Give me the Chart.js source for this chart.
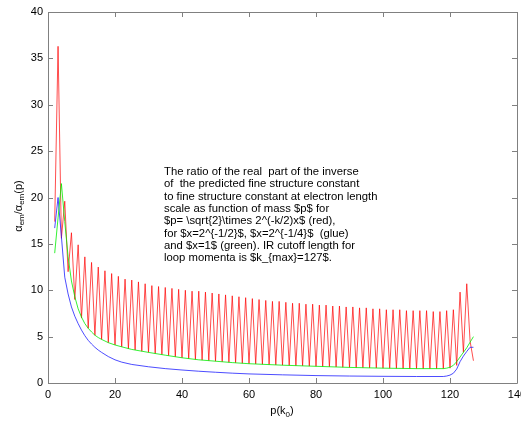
<!DOCTYPE html>
<html>
<head>
<meta charset="utf-8">
<script src="https://cdn.jsdelivr.net/npm/chart.js@4/dist/chart.umd.min.js"></script>
<style>
html,body{margin:0;padding:0;background:#fff;}
#wrap{width:521px;height:421px;}
</style>
</head>
<body>
<div id="wrap"><canvas id="c" width="521" height="421"></canvas></div>
<script>
// k values (x-axis p(k0))
const kValues = [2,3,4,5,6,7,8,9,10,11,12,13,14,15,16,17,18,19,20,21,22,23,24,25,26,27,28,29,30,31,32,33,34,35,36,37,38,39,40,41,42,43,44,45,46,47,48,49,50,51,52,53,54,55,56,57,58,59,60,61,62,63,64,65,66,67,68,69,70,71,72,73,74,75,76,77,78,79,80,81,82,83,84,85,86,87,88,89,90,91,92,93,94,95,96,97,98,99,100,101,102,103,104,105,106,107,108,109,110,111,112,113,114,115,116,117,118,119,120,121,122,123,124,125,126,127];
// red series
const redValues = [17.4,36.3,15.6,19.6,12.0,16.2,9.0,14.9,7.0,13.6,5.9,13.0,5.15,12.5,4.7,12.1,4.35,11.8,4.1,11.5,3.9,11.2,3.7,11.1,3.56,10.9,3.43,10.7,3.3,10.5,3.18,10.4,3.06,10.3,2.95,10.2,2.83,10.1,2.72,10.0,2.63,9.9,2.54,9.9,2.47,9.8,2.41,9.7,2.35,9.6,2.29,9.5,2.23,9.4,2.18,9.3,2.13,9.2,2.08,9.1,2.05,9.0,2.02,8.9,1.98,8.8,1.95,8.8,1.92,8.7,1.9,8.6,1.87,8.6,1.85,8.5,1.82,8.5,1.8,8.4,1.78,8.4,1.75,8.3,1.73,8.3,1.7,8.2,1.68,8.2,1.66,8.1,1.65,8.1,1.63,8.0,1.62,8.0,1.6,7.9,1.59,7.9,1.58,7.9,1.57,7.8,1.56,7.8,1.55,7.8,1.55,7.8,1.55,7.7,1.55,7.7,1.55,7.8,1.6,7.9,1.9,9.8,3.3,10.7,4.5,2.4];
// green series (x = 1)
const greenK = [2,3,4,5,6,7,8,9,10,11,12,13,14,15,16,18,20,22,25,30,35,40,45,50,55,60,70,80,90,100,110,118,119,120,121,122,123,124,125,126,127];
const greenValues = [14.0,17.8,21.5,17.4,13.6,11.0,9.3,8.0,7.1,6.4,5.9,5.5,5.15,4.9,4.7,4.35,4.1,3.9,3.62,3.3,3.0,2.72,2.5,2.35,2.2,2.08,1.92,1.8,1.68,1.6,1.55,1.55,1.6,1.7,1.9,2.3,2.8,3.3,3.8,4.4,5.0];
// blue series
const blueK = [2,3,4,5,6,7,8,9,10,11,12,13,14,15,16,18,20,22,25,30,35,40,45,50,55,60,70,80,90,100,110,118,119,120,121,122,123,124,125,126,127];
const blueValues = [16.7,20.0,15.8,11.4,9.6,8.2,7.2,6.4,5.7,5.1,4.6,4.2,3.85,3.55,3.3,2.85,2.5,2.25,2.0,1.75,1.55,1.4,1.27,1.16,1.06,0.98,0.88,0.8,0.75,0.72,0.7,0.7,0.75,0.85,1.05,1.5,2.3,2.9,3.4,3.85,3.85];
// ticks
const xTicks = [0,20,40,60,80,100,120,140];
const yTicks = [0,5,10,15,20,25,30,35,40];
const noteLines = [
  "The ratio of the real  part of the inverse",
  "of  the predicted fine structure constant",
  "to fine structure constant at electron length",
  "scale as function of mass $p$ for",
  "$p= \\sqrt{2}\\times 2^(-k/2)x$ (red),",
  "for $x=2^{-1/2}$, $x=2^{-1/4}$  (glue)",
  "and $x=1$ (green). IR cutoff length for",
  "loop momenta is $k_{max}=127$."
];

const toPts = (xs, ys) => xs.map((x, i) => ({x: x, y: ys[i]}));
const FONT = "'Liberation Sans', Arial, sans-serif";
const AXIS = '#808080';

const framePlugin = {
  id: 'frame',
  afterDraw(chart) {
    const {ctx, chartArea: a, scales} = chart;
    ctx.save();
    ctx.strokeStyle = AXIS;
    ctx.lineWidth = 1;
    ctx.beginPath();
    ctx.rect(Math.round(a.left) + 0.5, Math.round(a.top) + 0.5, Math.round(a.right - a.left), Math.round(a.bottom - a.top));
    ctx.stroke();
    const L = 5;
    ctx.beginPath();
    xTicks.forEach(v => {
      const px = Math.round(scales.x.getPixelForValue(v)) + 0.5;
      ctx.moveTo(px, a.bottom); ctx.lineTo(px, a.bottom - L);
      ctx.moveTo(px, a.top); ctx.lineTo(px, a.top + L);
    });
    yTicks.forEach(v => {
      const py = Math.round(scales.y.getPixelForValue(v)) + 0.5;
      ctx.moveTo(a.left, py); ctx.lineTo(a.left + L, py);
      ctx.moveTo(a.right, py); ctx.lineTo(a.right - L, py);
    });
    ctx.stroke();

    // annotation text
    ctx.fillStyle = '#000';
    ctx.font = '11.3px ' + FONT;
    ctx.textBaseline = 'middle';
    ctx.textAlign = 'left';
    noteLines.forEach((t, i) => ctx.fillText(t, 164, 172 + i * 12.3));

    // x title p(k_0)
    const big = '11px ' + FONT, small = '8px ' + FONT;
    ctx.font = big;
    const w1 = ctx.measureText('p(k').width;
    const w3 = ctx.measureText(')').width;
    ctx.font = small;
    const w2 = ctx.measureText('0').width;
    let x0 = 282 - (w1 + w2 + w3) / 2;
    const yb = 411;
    ctx.font = big; ctx.fillText('p(k', x0, yb);
    ctx.font = small; ctx.fillText('0', x0 + w1, yb + 4);
    ctx.font = big; ctx.fillText(')', x0 + w1 + w2, yb);

    // y title alpha_em / alpha_em(p)
    ctx.save();
    ctx.translate(19, 206);
    ctx.rotate(-Math.PI / 2);
    const parts = [['α', big, 0], ['em', small, 3], ['/α', big, 0], ['em', small, 3], ['(p)', big, 0]];
    let tw = 0;
    parts.forEach(p => { ctx.font = p[1]; tw += ctx.measureText(p[0]).width; });
    let cx = -tw / 2;
    parts.forEach(p => { ctx.font = p[1]; ctx.fillText(p[0], cx, p[2]); cx += ctx.measureText(p[0]).width; });
    ctx.restore();
    ctx.restore();
  }
};

new Chart(document.getElementById('c'), {
  type: 'line',
  data: {
    datasets: [
      {label: 'green', data: toPts(greenK, greenValues), borderColor: '#00ee00', borderWidth: 0.8, pointRadius: 0, tension: 0, fill: false},
      {label: 'blue', data: toPts(blueK, blueValues), borderColor: '#2020ff', borderWidth: 0.8, pointRadius: 0, tension: 0, fill: false},
      {label: 'red', data: toPts(kValues, redValues), borderColor: '#ff0000', borderWidth: 0.7, pointRadius: 0, tension: 0, fill: false}
    ]
  },
  options: {
    responsive: false,
    animation: false,
    events: [],
    layout: {autoPadding: false, padding: {top: 12, right: 4, left: 0, bottom: 0}},
    plugins: {legend: {display: false}, tooltip: {enabled: false}, title: {display: false}},
    scales: {
      x: {
        type: 'linear', min: 0, max: 140,
        afterBuildTicks: s => { s.ticks = xTicks.map(v => ({value: v})); },
        afterFit: s => { s.height = 38; s.paddingLeft = 0; s.paddingRight = 0; },
        grid: {display: false, drawTicks: false},
        border: {display: false},
        ticks: {color: '#000', font: {family: FONT, size: 11}, padding: 5, maxRotation: 0, autoSkip: false, callback: v => String(v)}
      },
      y: {
        type: 'linear', min: 0, max: 40,
        afterBuildTicks: s => { s.ticks = yTicks.map(v => ({value: v})); },
        afterFit: s => { s.width = 48; s.paddingTop = 0; s.paddingBottom = 0; },
        grid: {display: false, drawTicks: false},
        border: {display: false},
        ticks: {color: '#000', font: {family: FONT, size: 11}, padding: 5, autoSkip: false, callback: v => String(v)}
      }
    }
  },
  plugins: [framePlugin]
});
</script>
</body>
</html>
